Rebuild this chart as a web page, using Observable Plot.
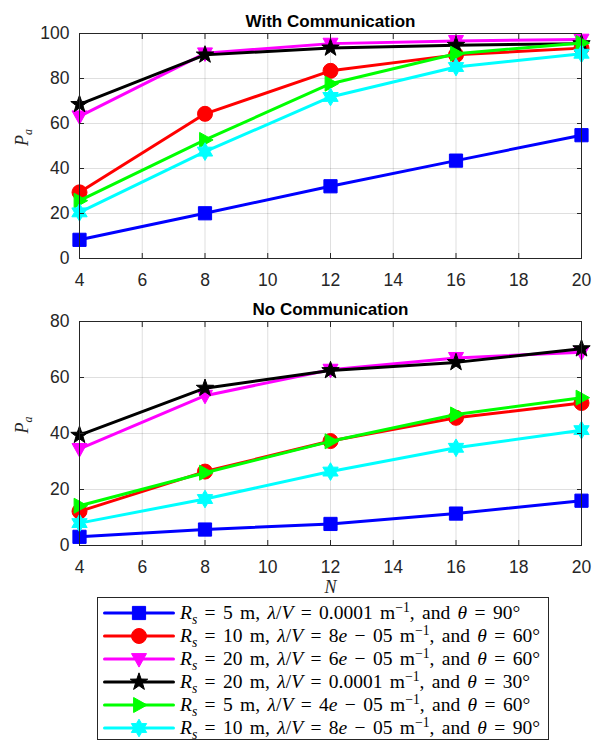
<!DOCTYPE html>
<html><head><meta charset="utf-8">
<script src="https://cdn.jsdelivr.net/npm/d3@7"></script>
<script src="https://cdn.jsdelivr.net/npm/@observablehq/plot@0.6"></script>
<style>
body{margin:0;background:#fff;}
#wrap{position:relative;width:598px;height:741px;overflow:hidden;background:#fff;}
#top{position:absolute;left:0;top:0;}
#bot{position:absolute;left:0;top:290px;}
#legend{position:absolute;left:97px;top:597px;width:450px;height:141px;border:1px solid #262626;background:#fff;}
.row{position:absolute;left:0;height:23px;width:100%;}
.row svg{position:absolute;left:0;top:0;overflow:visible;}
.row span{position:absolute;left:82px;top:0;line-height:23px;font-family:"Liberation Serif",serif;font-size:19.5px;word-spacing:2.5px;white-space:nowrap;color:#000}
sub,sup{font-size:70%;line-height:0}
</style></head><body><div id="wrap"><div id="top"></div><div id="bot"></div><div id="legend"></div></div>
<script>
// ---- data ----
const N = [4, 8, 12, 16, 20];
const colors = ["#0000ff", "#ff0000", "#ff00ff", "#000000", "#00ff00", "#00ffff"];
// With Communication
const withBlue    = [8.3, 20.1, 32.1, 43.5, 54.8];
const withRed     = [29.4, 64.3, 83.4, 90.5, 93.5];
const withMagenta = [63.2, 91.2, 95.5, 96.7, 97.3];
const withBlack   = [68.5, 90.5, 93.6, 94.8, 95.5];
const withGreen   = [25.7, 52.7, 77.7, 91.0, 95.8];
const withCyan    = [20.5, 47.5, 71.8, 85.1, 91.0];
// No Communication
const noBlue    = [3.1, 5.7, 7.7, 11.4, 16.0];
const noRed     = [12.2, 26.4, 37.3, 45.6, 50.9];
const noMagenta = [34.5, 53.5, 62.8, 67.0, 69.0];
const noBlack   = [39.4, 56.2, 62.5, 65.4, 70.3];
const noGreen   = [14.2, 26.0, 37.2, 46.8, 52.8];
const noCyan    = [8.0, 16.6, 26.4, 34.9, 41.2];
// legend parameters
const Rs = [5, 10, 20, 20, 5, 10];
const lambdaV = ["0.0001", "8e-05", "6e-05", "0.0001", "4e-05", "8e-05"];
const theta = [90, 60, 60, 30, 60, 90];
// ticks
const xTicks = [4, 6, 8, 10, 12, 14, 16, 18, 20];
const yTicksTop = [0, 20, 40, 60, 80, 100];
const yTicksBot = [0, 20, 40, 60, 80];
const titles = ["With Communication", "No Communication"];
const yLabel = "Pa";
const xLabel = "N";

// ---- marker symbols ----
const rad = size => Math.sqrt(size / Math.PI);
const symSquare = {draw(c, s){const h = rad(s) * 0.88; c.rect(-h, -h, 2*h, 2*h);}};
const symTriDown = {draw(c, s){const R = rad(s); c.moveTo(-R, -0.72*R); c.lineTo(R, -0.72*R); c.lineTo(0, 1.08*R); c.closePath();}};
const symTriRight = {draw(c, s){const R = rad(s); c.moveTo(-0.72*R, -R); c.lineTo(1.08*R, 0); c.lineTo(-0.72*R, R); c.closePath();}};
const symStar = {draw(c, s){const R = rad(s) * 1.22, r = R * 0.4;
  for (let i = 0; i < 10; i++){const a = -Math.PI/2 + i*Math.PI/5, q = i % 2 ? r : R;
    i ? c.lineTo(q*Math.cos(a), q*Math.sin(a)) : c.moveTo(q*Math.cos(a), q*Math.sin(a));} c.closePath();}};
const symHex = {draw(c, s){const R = rad(s) * 1.18, r = R * 0.577;
  for (let i = 0; i < 12; i++){const a = -Math.PI/2 + i*Math.PI/6, q = i % 2 ? r : R;
    i ? c.lineTo(q*Math.cos(a), q*Math.sin(a)) : c.moveTo(q*Math.cos(a), q*Math.sin(a));} c.closePath();}};
const symbols = [symSquare, "circle", symTriDown, symStar, symTriRight, symHex];
const markerR = 7.5;

const sansFont = "'Liberation Sans', Arial, Helvetica, sans-serif";
const serifFont = "'Liberation Serif', 'Times New Roman', serif";

function panel(series, title, yTicks, height, mt, mb, showX) {
  const marks = [
    Plot.gridX(xTicks, {stroke: "#262626", strokeOpacity: 0.15}),
    Plot.gridY(yTicks, {stroke: "#262626", strokeOpacity: 0.15}),
  ];
  series.forEach((vals, s) => {
    const d = vals.map((v, i) => ({x: N[i], y: v}));
    marks.push(Plot.line(d, {x: "x", y: "y", stroke: colors[s], strokeWidth: 3}));
    marks.push(Plot.dot(d, {x: "x", y: "y", symbol: symbols[s], r: markerR, fill: colors[s], stroke: colors[s], strokeWidth: 1}));
  });
  marks.push(
    Plot.frame({stroke: "#262626", strokeWidth: 1}),
    Plot.axisX({ticks: xTicks, anchor: "bottom", tickSize: -5, tickPadding: 20, fontSize: 17.5, fontFamily: sansFont, label: null}),
    Plot.axisX({ticks: xTicks, anchor: "top", tickSize: -5, fill: "none", label: null}),
    Plot.axisY({ticks: yTicks, anchor: "left", tickSize: -5, tickPadding: 15, fontSize: 17.5, fontFamily: sansFont, label: null}),
    Plot.axisY({ticks: yTicks, anchor: "right", tickSize: -5, fill: "none", label: null}),
    Plot.text([title], {text: d => d, frameAnchor: "top", dy: -19, fontSize: 17, fontWeight: "bold", fontFamily: sansFont, fill: "#000"}),
    Plot.text([yLabel], {text: d => d, frameAnchor: "left", dx: -57, rotate: -90, fontSize: 18, fontFamily: serifFont, fill: "#262626"})
  );
  if (showX) marks.push(Plot.text([xLabel], {text: d => d, frameAnchor: "bottom", dy: 47, fontSize: 18, fontStyle: "italic", fontFamily: serifFont, fill: "#262626"}));
  const svg = Plot.plot({
    width: 598, height, marginLeft: 79, marginRight: 17, marginTop: mt, marginBottom: mb,
    style: {color: "#262626", background: "transparent", overflow: "visible"},
    x: {domain: [4, 20]},
    y: {domain: [yTicks[0], yTicks[yTicks.length - 1]]},
    marks
  });
  // subscript in the y label
  d3.select(svg).selectAll("text").filter(function(){ return this.textContent === yLabel; }).each(function(){
    const t = d3.select(this); t.text(null);
    t.append("tspan").attr("font-style", "italic").text(yLabel[0]);
    t.append("tspan").attr("font-style", "italic").attr("font-size", 12).attr("dy", "0.3em").text(yLabel.slice(1));
  });
  return svg;
}

document.getElementById("top").appendChild(
  panel([withBlue, withRed, withMagenta, withBlack, withGreen, withCyan], titles[0], yTicksTop, 290, 33, 32, false));
document.getElementById("bot").appendChild(
  panel([noBlue, noRed, noMagenta, noBlack, noGreen, noCyan], titles[1], yTicksBot, 300, 31, 45, true));

// ---- legend ----
const legend = document.getElementById("legend");
const fmtLam = s => s.includes("e") ? s.replace(/e-(\d+)/, "<i>e</i> − $1") : s;
Rs.forEach((r, s) => {
  const row = document.createElement("div");
  row.className = "row";
  row.style.top = (2.5 + s * 23) + "px";
  const sample = [{x: 0, y: 0.5}, {x: 1, y: 0.5}];
  const svg = Plot.plot({
    width: 80, height: 23, margin: 0,
    style: {background: "transparent", overflow: "visible"},
    x: {domain: [0, 1], range: [6, 75], axis: null},
    y: {domain: [0, 1], range: [23, 0], axis: null},
    marks: [
      Plot.line(sample, {x: "x", y: "y", stroke: colors[s], strokeWidth: 3}),
      Plot.dot([{x: 0.5, y: 0.5}], {x: "x", y: "y", symbol: symbols[s], r: markerR, fill: colors[s], stroke: colors[s], strokeWidth: 1})
    ]
  });
  row.appendChild(svg);
  const span = document.createElement("span");
  span.innerHTML = `<i>R</i><sub><i>s</i></sub> = ${r} m, <i>λ</i>/<i>V</i> = ${fmtLam(lambdaV[s])} m<sup>−1</sup>, and <i>θ</i> = ${theta[s]}°`;
  row.appendChild(span);
  legend.appendChild(row);
});
</script></body></html>
